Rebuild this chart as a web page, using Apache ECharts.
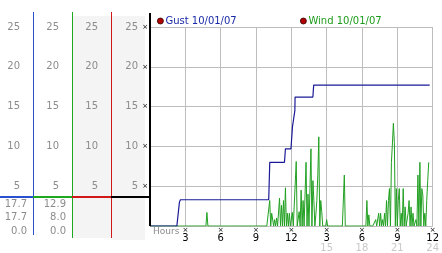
<!DOCTYPE html>
<html><head><meta charset="utf-8">
<script src="https://cdn.jsdelivr.net/npm/echarts@6/dist/echarts.min.js"></script>
<style>html,body{margin:0;padding:0;background:#fff}#c{width:442px;height:253px}</style>
</head><body><div id="c"></div>
<script>
// ---- data ----
const gustName = 'Gust 10/01/07';
const windName = 'Wind 10/01/07';
const yTicks = [5, 10, 15, 20, 25];
const xTickLabels = ['', '3', '6', '9', '12', '3', '6', '9', '12'];
const xTickLabels24 = ['', '', '', '', '', '15', '18', '21', '24'];
const gustStats = [17.7, 17.7, 0.0];   // max, current, min
const windStats = [12.9, 8.0, 0.0];
// Gust: [hour, value] change points
const gustPoints = [[0,0],[2.28,0],[2.5,3.0],[2.58,3.3],[10.08,3.3],[10.17,8.0],[11.42,8.0],[11.5,9.7],
  [11.97,9.7],[12.1,12.5],[12.3,14.5],[12.32,16.2],[13.83,16.2],[13.9,17.7],[23.75,17.7]];
// Wind: 5-minute samples, one row per hour
const windRows = [
  [0,0,0,0,0,0,0,0,0,0,0,0],
  [0,0,0,0,0,0,0,0,0,0,0,0],
  [0,0,0,0,0,0,0,0,0,0,0,0],
  [0,0,0,0,0,0,0,0,0,0,0,0],
  [0,0,0,0,0,0,0,0,0,0,1.7,0],
  [0,0,0,0,0,0,0,0,0,0,0,0],
  [0,0,0,0,0,0,0,0,0,0,0,0],
  [0,0,0,0,0,0,0,0,0,0,0,0],
  [0,0,0,0,0,0,0,0,0,0,0,0],
  [0,0,0,0,0,0,0,0,0,0,0,0],
  [0,0,3.2,0,1.6,1.6,0,0.8,0,1.0,0,0],
  [3.5,0,2.6,0,3.2,0,4.8,0,1.6,0,1.6,0],
  [0,1.7,0,0,0,8.1,0,0,1.8,0,4.5,0],
  [3.2,0,0,8.0,0,4.0,0,4.7,9.7,0,5.7,3.2],
  [0,1.4,3.2,6.4,11.2,0,3.2,1.8,0,0,0,0],
  [0.8,0,0,0,0,0,0,0,0,0,0,0],
  [0,0,0,0,0,0,6.4,0,0,0,0,0],
  [0,0,0,0,0,0,0,0,0,0,0,0],
  [0,0,0,0,0,3.2,0,1.4,0,0,0,0],
  [0,0,0.8,0,0,1.6,0,1.6,0,0.8,0,1.6],
  [0,3.2,0,3.2,4.7,0,8.0,10.3,12.9,10.5,0,4.7],
  [0,3.2,4.7,0,1.6,0,4.7,0,2.4,0,0,1.6],
  [3.2,0,2.4,0,1.6,0,0,0.8,0,6.4,0,8.0],
  [0,4.7,3.9,0,1.6,0,3.2,5.7,8.0]
];
const wind = windRows.flat();

// ---- chart ----
const FF = 'DejaVu Sans';
const GRAY = '#8c8c8c';
const chart = echarts.init(document.getElementById('c'), null, {renderer: 'canvas'});

function colAxis(offset) {
  return {
    type: 'value', gridIndex: 0, position: 'left', offset: offset, min: 0, max: 25, interval: 5,
    axisLine: {show: false}, axisTick: {show: false}, splitLine: {show: false},
    axisLabel: {margin: 13, color: GRAY, fontSize: 10, fontFamily: FF,
      formatter: v => yTicks.includes(v) ? String(v) : ''}
  };
}

const statTexts = [];
gustStats.forEach((v, i) => statTexts.push({type: 'text', x: 27, y: 204 + i * 13.5,
  style: {text: v.toFixed(1), fill: GRAY, font: '10px "DejaVu Sans"', align: 'right', verticalAlign: 'middle'}}));
windStats.forEach((v, i) => statTexts.push({type: 'text', x: 66, y: 204 + i * 13.5,
  style: {text: v.toFixed(1), fill: GRAY, font: '10px "DejaVu Sans"', align: 'right', verticalAlign: 'middle'}}));

function vline(x, y1, y2, color, w) {
  return {type: 'rect', shape: {x: x, y: y1, width: w, height: y2 - y1}, style: {fill: color}, z: 50, silent: true};
}
function hline(x1, x2, y, color, h) {
  return {type: 'rect', shape: {x: x1, y: y, width: x2 - x1, height: h}, style: {fill: color}, z: 50, silent: true};
}

chart.setOption({
  animation: false,
  textStyle: {fontFamily: FF},
  grid: {left: 150, top: 27, width: 288, height: 199, containLabel: false},
  legend: [
    {left: 152, top: 11, itemWidth: 6, itemHeight: 6, itemGap: 2, selectedMode: false,
      textStyle: {fontSize: 10, fontFamily: FF, padding: [0, 0, 0, -3]},
      data: [{name: gustName, icon: 'circle', itemStyle: {color: '#b00000', borderColor: '#300', borderWidth: 0.8},
        textStyle: {color: '#1a2aa8'}}]},
    {left: 295, top: 11, itemWidth: 6, itemHeight: 6, itemGap: 2, selectedMode: false,
      textStyle: {fontSize: 10, fontFamily: FF, padding: [0, 0, 0, -3]},
      data: [{name: windName, icon: 'circle', itemStyle: {color: '#b00000', borderColor: '#300', borderWidth: 0.8},
        textStyle: {color: '#1c9c1c'}}]}
  ],
  xAxis: {
    type: 'value', min: 0, max: 24, interval: 3,
    axisLine: {show: false}, axisTick: {show: false},
    splitLine: {show: true, lineStyle: {color: '#bdbdbd', width: 1}},
    axisLabel: {
      margin: 1, showMinLabel: true, showMaxLabel: true,
      formatter: v => {
        const k = Math.round(v / 3);
        if (k === 0) return '';
        return '{m|×}\n{n|' + xTickLabels[k] + '}\n{f|' + (xTickLabels24[k] || ' ') + '}';
      },
      rich: {
        m: {fontSize: 7, lineHeight: 7, color: '#000', fontFamily: FF, align: 'center'},
        n: {fontSize: 10, lineHeight: 9, color: '#000', fontFamily: FF, align: 'center'},
        f: {fontSize: 10, lineHeight: 10, color: '#c8c8c8', fontFamily: FF, align: 'center'}
      }
    }
  },
  yAxis: [
    {
      type: 'value', min: 0, max: 25, interval: 5, position: 'left',
      axisLine: {show: false}, axisTick: {show: false},
      splitLine: {show: true, lineStyle: {color: '#bdbdbd', width: 1}},
      axisLabel: {
        margin: 2,
        formatter: v => yTicks.includes(v) ? '{v|' + v + '}{m|×}' : '',
        rich: {
          v: {fontSize: 10, color: GRAY, fontFamily: FF},
          m: {fontSize: 7, color: '#000', fontFamily: FF, width: 10, align: 'right'}
        }
      }
    },
    colAxis(39), colAxis(78), colAxis(117)
  ],
  series: [
    {name: windName, type: 'line', yAxisIndex: 0, symbol: 'none', z: 3,
      data: wind.map((v, i) => [i / 12, v]),
      itemStyle: {color: '#22a022'}, lineStyle: {color: '#22a022', width: 1}},
    {name: gustName, type: 'line', yAxisIndex: 0, symbol: 'none', z: 4,
      data: gustPoints,
      itemStyle: {color: '#1a1a96'}, lineStyle: {color: '#1a1a96', width: 1.2}}
  ],
  graphic: [
    {type: 'rect', shape: {x: 73, y: 16, width: 38, height: 222}, style: {fill: '#f4f4f4'}, z: -10, silent: true},
    {type: 'rect', shape: {x: 112, y: 16, width: 33, height: 224}, style: {fill: '#f4f4f4'}, z: -10, silent: true},
    vline(33, 12, 235, '#2a50d0', 1),
    vline(72, 12, 238, '#1fa81f', 1),
    vline(111, 12, 238, '#d01818', 1),
    vline(149, 13, 226, '#000', 2),
    hline(0, 33, 196, '#2a50d0', 2),
    hline(33, 72, 196, '#1fa81f', 2),
    hline(72, 111, 196, '#d01818', 2),
    hline(111, 150, 196, '#000', 2),
    {type: 'text', x: 153, y: 232, style: {text: 'Hours', fill: GRAY, font: '9px "DejaVu Sans"', verticalAlign: 'middle'}, z: 50},
    ...statTexts
  ]
});
</script>
</body></html>
